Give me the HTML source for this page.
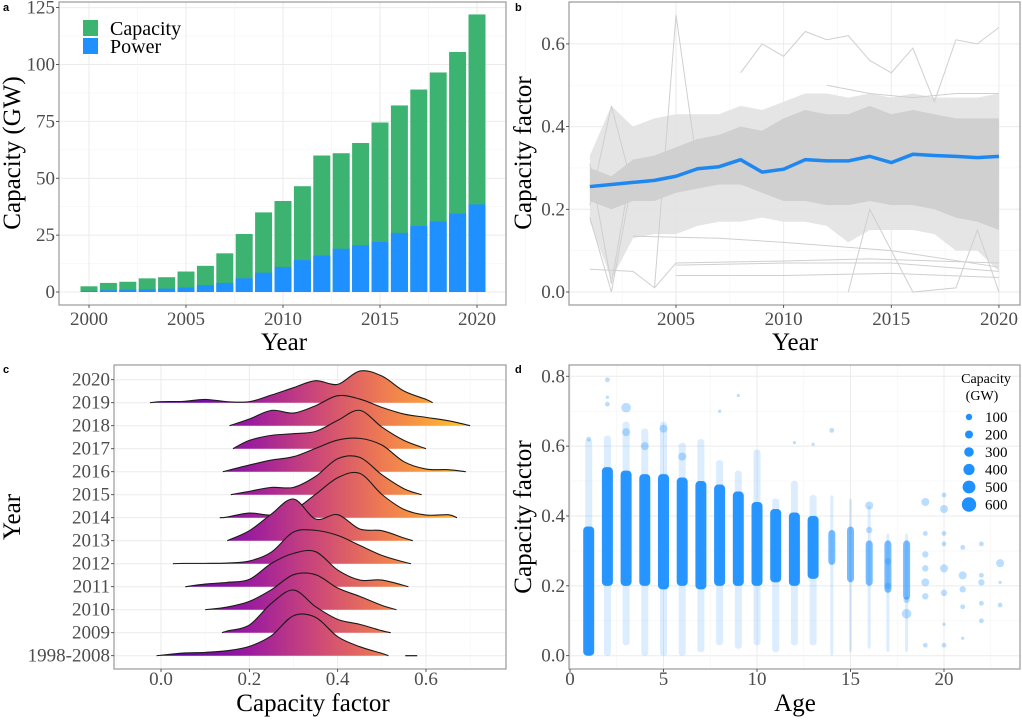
<!DOCTYPE html>
<html><head><meta charset="utf-8"><style>
html,body{margin:0;padding:0;background:#fff;}
svg{display:block;font-family:"Liberation Serif",serif;}
.tick{fill:#4d4d4d;font-size:19px;}
.title{fill:#000;font-size:25px;}
.plabel{font-family:"Liberation Sans",sans-serif;font-weight:bold;font-size:11px;fill:#000;}
</style></head><body>
<svg id="fig" width="1022" height="720" viewBox="0 0 1022 720" xmlns="http://www.w3.org/2000/svg">
<defs>
<linearGradient id="plasma" gradientUnits="userSpaceOnUse" x1="161" y1="0" x2="470" y2="0">
<stop offset="0" stop-color="#4c02a1"/><stop offset="0.28" stop-color="#9a1aa0"/><stop offset="0.5" stop-color="#cc4778"/><stop offset="0.71" stop-color="#ed7953"/><stop offset="0.86" stop-color="#fa9e3b"/><stop offset="1" stop-color="#fdc926"/>
</linearGradient>
</defs>
<g id="pa"></g>
<g id="pb"></g>
<g id="pc"></g>
<g id="pd"></g>
</svg>
<script>
// ---------- Panel a data ----------
const aYears=[2000,2001,2002,2003,2004,2005,2006,2007,2008,2009,2010,2011,2012,2013,2014,2015,2016,2017,2018,2019,2020];
const aCapacity=[2.5,4,4.5,6,6.5,9,11.5,17,25.5,35,40,46.5,60,61,65.5,74.5,82,89,96.5,105.5,122];
const aPower=[0.5,0.8,1,1.2,1.5,2,3,4,6,8.5,11,14,16,19,20.5,22,26,29,31,34.5,38.5];
const aYTicks=[0,25,50,75,100,125];
const aXTicks=[2000,2005,2010,2015,2020];
// ---------- Panel b data ----------
const bYears=[2001,2002,2003,2004,2005,2006,2007,2008,2009,2010,2011,2012,2013,2014,2015,2016,2017,2018,2019,2020];
const bMean=[0.255,0.26,0.265,0.27,0.28,0.298,0.303,0.32,0.29,0.297,0.32,0.317,0.317,0.328,0.313,0.333,0.33,0.328,0.325,0.328];
const bOuterHi=[0.33,0.45,0.40,0.42,0.43,0.43,0.43,0.45,0.44,0.46,0.48,0.48,0.47,0.48,0.47,0.48,0.47,0.47,0.47,0.48];
const bOuterLo=[0.17,0.03,0.13,0.14,0.14,0.16,0.17,0.17,0.18,0.17,0.17,0.16,0.12,0.15,0.15,0.15,0.14,0.10,0.10,0.05];
const bInnerHi=[0.30,0.28,0.32,0.33,0.35,0.37,0.38,0.40,0.39,0.42,0.44,0.43,0.43,0.45,0.43,0.44,0.43,0.42,0.42,0.42];
const bInnerLo=[0.22,0.20,0.22,0.22,0.24,0.25,0.26,0.26,0.24,0.22,0.22,0.21,0.21,0.22,0.21,0.21,0.20,0.18,0.17,0.15];
const bOutlierLines=[
 [[2001,0.31],[2002,0.02],[2003,0.32]],
 [[2001,0.21],[2002,0.45],[2003,0.25]],
 [[2001,0.18],[2002,0.0],[2003,0.28]],
 [[2004,0.01],[2005,0.67],[2006,0.30]],
 [[2008,0.53],[2009,0.60],[2010,0.57],[2011,0.63],[2012,0.61],[2013,0.62],[2014,0.56],[2015,0.53],[2016,0.59],[2017,0.46],[2018,0.61],[2019,0.60],[2020,0.64]],
 [[2005,0.04],[2010,0.04],[2015,0.045],[2020,0.035]],
 [[2005,0.065],[2010,0.07],[2015,0.07],[2020,0.05]],
 [[2001,0.055],[2003,0.05],[2004,0.01],[2005,0.07],[2010,0.075],[2014,0.08],[2020,0.07]],
 [[2003,0.135],[2007,0.13],[2010,0.12],[2015,0.10],[2020,0.06]],
 [[2012,0.50],[2014,0.48],[2016,0.47],[2018,0.48],[2020,0.48]],
 [[2013,0.0],[2014,0.20],[2016,0.0],[2018,0.01],[2019,0.15],[2020,0.0]]
];
const bYTicks=[0,0.2,0.4,0.6];
const bXTicks=[2005,2010,2015,2020];
// ---------- Panel c data ----------
const cLabels=["1998-2008","2009","2010","2011","2012","2013","2014","2015","2016","2017","2018","2019","2020"];
const cGrid=[-0.05,0,0.05,0.1,0.15,0.2,0.25,0.3,0.35,0.4,0.45,0.5,0.55,0.6,0.65,0.7];
const cStart=[-0.01,0.138,0.10,0.055,0.027,0.15,0.133,0.158,0.14,0.163,0.155,-0.025];
const cEnd=[0.515,0.52,0.533,0.56,0.566,0.57,0.67,0.59,0.69,0.60,0.70,0.615];
const cDens=[
 [0,0.2,0.8,1.0,1.5,2.8,6,12,11.5,5.7,2.7,0.7,0,0,0,0],
 [0,0,0,0,0.5,2.3,8.8,12.8,7.8,4,2.5,0.6,0,0,0,0],
 [0,0,0,0.1,0.8,2.5,6,10.5,10.5,6.5,4,1.3,0,0,0,0],
 [0,0,0,0.8,1.3,2.2,7,10,10.5,5,2,2,0.5,0,0,0],
 [0,0,0.1,0.1,0.2,0.8,3.5,9.5,10,8.5,5.5,2.5,0.5,0,0,0],
 [0,0,0,0,0,3,8,12.5,6.5,7.8,3.5,3,0.8,0,0,0],
 [0,0,0,0,0.2,1.4,0.8,2.3,7,12,13.3,7,2.5,0.8,0.9,0],
 [0,0,0,0,0,1.0,2.2,2.2,5.5,10.8,11.2,6,1.8,0,0,0],
 [0,0,0,0,0.3,2,3.5,4.5,7,9.5,10,8,3,0.8,0.6,0],
 [0,0,0,0,0,2.5,4,4.5,5.2,8.5,11.5,6.5,2.5,0,0,0],
 [0,0,0,0,0,2.0,4.6,3.8,6,9,8,5.5,3.5,2.5,1.5,0],
 [0,0.3,0.4,1.0,0.3,0.3,2.3,4.5,6.6,5.5,9.5,8,3.5,1,0,0]
];
const cXTicks=[0,0.2,0.4,0.6];
// ---------- Panel d data ----------
const dAges=[1,2,3,4,5,6,7,8,9,10,11,12,13,14,15,16,17,18];
const dDenseLo=[0.0,0.20,0.20,0.20,0.19,0.20,0.19,0.20,0.20,0.20,0.21,0.20,0.22,0.26,0.21,0.20,0.18,0.16];
const dDenseHi=[0.37,0.54,0.53,0.52,0.52,0.51,0.50,0.49,0.47,0.44,0.42,0.41,0.40,0.36,0.37,0.33,0.33,0.33];
const dSparseLo=[0.0,0.0,0.03,0.0,0.0,0.0,0.01,0.03,0.02,0.03,0.01,0.03,0.03,0.0,0.01,0.02,0.01,0.01];
const dSparseHi=[0.62,0.63,0.67,0.65,0.67,0.61,0.62,0.56,0.53,0.59,0.45,0.50,0.46,0.46,0.45,0.43,0.35,0.35];
const dPoints=[[2,0.79,3],[2,0.74,2],[2,0.72,3],[3,0.71,6],[9,0.745,2],[8,0.70,2],[14,0.645,3],[12,0.61,2],[13,0.605,2],[1,0.62,3],[5,0.65,5],[6,0.57,5],[3,0.64,5],[4,0.60,5],
 [19,0.44,5],[19,0.35,3],[19,0.29,4],[19,0.25,4],[19,0.21,5],[19,0.17,4],[19,0.03,3],[20,0.46,3],[20,0.42,5],[20,0.35,3],[20,0.32,3],[20,0.25,5],[20,0.18,4],[20,0.09,2],[20,0.03,3],
 [21,0.31,3],[21,0.23,5],[21,0.19,4],[21,0.14,3],[21,0.05,2],[22,0.32,3],[22,0.23,3],[22,0.21,4],[22,0.15,3],[22,0.10,3],[23,0.265,5],[23,0.21,2],[23,0.145,3],
 [18,0.12,6],[18,0.16,4],[17,0.27,4],[17,0.20,4],[16,0.43,5],[16,0.36,4]];
const dXTicks=[0,5,10,15,20];
const dYTicks=[0,0.2,0.4,0.6,0.8];
const dLegend=[100,200,300,400,500,600];

const NS="http://www.w3.org/2000/svg";
function mk(tag,attrs,parent,text){const e=document.createElementNS(NS,tag);for(const k in attrs)e.setAttribute(k,attrs[k]);if(text!==undefined)e.textContent=text;parent.appendChild(e);return e;}
function frame(g,x0,y0,x1,y1){const r=mk('rect',{x:x0,y:y0,width:x1-x0,height:y1-y0,fill:'none',stroke:'#9a9a9a','stroke-width':1.2},g);}
function gridV(g,x,y0,y1,minor){const l=mk('line',{x1:x,x2:x,y1:y0,y2:y1,stroke:minor?'#f4f4f4':'#ebebeb','stroke-width':minor?0.6:1},g);}
function gridH(g,y,x0,x1,minor){const l=mk('line',{x1:x0,x2:x1,y1:y,y2:y,stroke:minor?'#f4f4f4':'#ebebeb','stroke-width':minor?0.6:1},g);}
function tickLabel(g,x,y,txt,anchor,name){const t=mk('text',{x:x,y:y,'text-anchor':anchor,class:'tick'},g,txt);return t;}
function tickMark(g,x1,y1,x2,y2){const l=mk('line',{x1,y1,x2,y2,stroke:'#333','stroke-width':0.8},g);}
function title(g,x,y,txt,rot,name){const t=mk('text',{x:x,y:y,'text-anchor':'middle',class:'title',transform:rot?`rotate(-90 ${x} ${y})`:''},g,txt);}
function plabel(g,x,y,txt){const t=mk('text',{x,y,class:'plabel'},g,txt);}
function catmull(pts){let d=`M${pts[0][0]},${pts[0][1]}`;for(let i=0;i<pts.length-1;i++){const p0=pts[Math.max(0,i-1)],p1=pts[i],p2=pts[i+1],p3=pts[Math.min(pts.length-1,i+2)];d+=` C${p1[0]+(p2[0]-p0[0])/6},${p1[1]+(p2[1]-p0[1])/6} ${p2[0]-(p3[0]-p1[0])/6},${p2[1]-(p3[1]-p1[1])/6} ${p2[0]},${p2[1]}`;}return d;}

// ===== Panel a =====
(function(){
 const g=document.getElementById('pa');
 const X0=59,X1=506,Y0=2,Y1=305;
 const xs=v=>89+(v-2000)*19.4, ys=v=>292-v*2.275;
 aYTicks.forEach((v,i)=>{if(i<aYTicks.length-1)gridH(g,ys(v+12.5),X0,X1,true);gridH(g,ys(v),X0,X1);});
 aXTicks.forEach(v=>{gridV(g,xs(v+2.5),Y0,Y1,true);gridV(g,xs(v),Y0,Y1);});
 const bw=17;
 aYears.forEach((yr,i)=>{
  const c=mk('rect',{x:xs(yr)-bw/2,y:ys(aCapacity[i]),width:bw,height:ys(0)-ys(aCapacity[i]),fill:'#3cb371'},g);
  
  const p=mk('rect',{x:xs(yr)-bw/2,y:ys(aPower[i]),width:bw,height:ys(0)-ys(aPower[i]),fill:'#1e90ff'},g);
  
 });
 frame(g,X0,Y0,X1,Y1);
 aYTicks.forEach(v=>{tickLabel(g,55,ys(v)+6,String(v),'end','y-tick-label');tickMark(g,X0-3,ys(v),X0,ys(v));});
 aXTicks.forEach(v=>{tickLabel(g,xs(v),325,String(v),'middle','x-tick-label');tickMark(g,xs(v),Y1,xs(v),Y1+3);});
 title(g,284,350,'Year',false,'x-axis-title');
 title(g,20,153,'Capacity (GW)',true,'y-axis-title');
 plabel(g,3,11,'a');
 const lg=mk('g',{},g);
 let r=mk('rect',{x:83,y:20,width:15,height:16,fill:'#3cb371'},lg);
 r=mk('rect',{x:83,y:38,width:15,height:16,fill:'#1e90ff'},lg);
 let t=mk('text',{x:110,y:35,'font-size':20,fill:'#000'},lg,'Capacity');
 t=mk('text',{x:110,y:53,'font-size':20,fill:'#000'},lg,'Power');
})();

// ===== Panel b =====
(function(){
 const g=document.getElementById('pb');
 const X0=569,X1=1020,Y0=2,Y1=305;
 const xs=v=>676+(v-2005)*21.53, ys=v=>292-v*413.5;
 bYTicks.forEach(v=>{gridH(g,ys(v+0.1),X0,X1,true);gridH(g,ys(v),X0,X1);});
 [2002.5,2007.5,2012.5,2017.5].forEach(v=>gridV(g,xs(v),Y0,Y1,true));
 bXTicks.forEach(v=>gridV(g,xs(v),Y0,Y1));
 function band(hi,lo,fill,op,name){let pts=bYears.map((y,i)=>`${xs(y)},${ys(hi[i])}`);for(let i=bYears.length-1;i>=0;i--)pts.push(`${xs(bYears[i])},${ys(lo[i])}`);const p=mk('polygon',{points:pts.join(' '),fill:fill,opacity:op},g);}
 band(bOuterHi,bOuterLo,'#e2e2e2',0.9,'plant-range-band');
 band(bInnerHi,bInnerLo,'#cdcdcd',0.9,'plant-core-band');
 bOutlierLines.forEach(line=>{const p=mk('polyline',{points:line.map(d=>`${xs(d[0])},${ys(d[1])}`).join(' '),fill:'none',stroke:'#cfcfcf','stroke-width':1},g);});
 const m=mk('polyline',{points:bYears.map((y,i)=>`${xs(y)},${ys(bMean[i])}`).join(' '),fill:'none',stroke:'#1e88f0','stroke-width':3.5,'stroke-linejoin':'round'},g);
 
 frame(g,X0,Y0,X1,Y1);
 bYTicks.forEach(v=>{tickLabel(g,565,ys(v)+6,v.toFixed(1),'end','y-tick-label');tickMark(g,X0-3,ys(v),X0,ys(v));});
 bXTicks.forEach(v=>{tickLabel(g,xs(v),325,String(v),'middle','x-tick-label');tickMark(g,xs(v),Y1,xs(v),Y1+3);});
 title(g,795,350,'Year',false,'x-axis-title');
 title(g,531,153,'Capacity factor',true,'y-axis-title');
 plabel(g,515,11,'b');
})();

// ===== Panel c =====
(function(){
 const g=document.getElementById('pc');
 const X0=114,X1=506,Y0=365,Y1=669;
 const xs=v=>161+v*441.7, yr=i=>655.7-i*23.0;
 const hs=v=>v*10/3;
 cLabels.forEach((l,i)=>gridH(g,yr(i),X0,X1));
 [-0.1,0.1,0.3,0.5,0.7].forEach(v=>gridV(g,xs(v),Y0,Y1,true));
 cXTicks.forEach(v=>gridV(g,xs(v),Y0,Y1));
 for(let i=cDens.length-1;i>=0;i--){
  const pts=[[xs(cStart[i]),yr(i)]];
  cGrid.forEach((gx,k)=>{if(gx>cStart[i]+0.01&&gx<cEnd[i]-0.01)pts.push([xs(gx),yr(i)-hs(cDens[i][k])]);});
  pts.push([xs(cEnd[i]),yr(i)]);
  const d=catmull(pts);
  const p=mk('path',{d:d+' Z',fill:'url(#plasma)',stroke:'none'},g);
  
  const o=mk('path',{d:d,fill:'none',stroke:'#1a1a1a','stroke-width':1.1},g);
  
 }
 const seg=mk('line',{x1:xs(0.553),x2:xs(0.58),y1:yr(0),y2:yr(0),stroke:'#1a1a1a','stroke-width':1.2},g);
 frame(g,X0,Y0,X1,Y1);
 cLabels.forEach((l,i)=>{tickLabel(g,110,yr(i)+6,l,'end','y-tick-label');tickMark(g,X0-3,yr(i),X0,yr(i));});
 cXTicks.forEach(v=>{tickLabel(g,xs(v),685,v.toFixed(1),'middle','x-tick-label');tickMark(g,xs(v),Y1,xs(v),Y1+3);});
 title(g,313,711,'Capacity factor',false,'x-axis-title');
 title(g,20,517,'Year',true,'y-axis-title');
 plabel(g,3,373,'c');
})();

// ===== Panel d =====
(function(){
 const g=document.getElementById('pd');
 const X0=569,X1=1020,Y0=365,Y1=669;
 const xs=v=>570+v*18.7, ys=v=>655.7-v*349.3;
 dYTicks.forEach((v,i)=>{if(i<dYTicks.length-1)gridH(g,ys(v+0.1),X0,X1,true);gridH(g,ys(v),X0,X1);});
 dXTicks.forEach(v=>{gridV(g,xs(v+2.5),Y0,Y1,true);gridV(g,xs(v),Y0,Y1);});
 dAges.forEach((a,i)=>{
  const w=a<=13?11:7;
  const s=mk('rect',{x:xs(a)-w/2+2,y:ys(dSparseHi[i]),width:w-4,height:ys(dSparseLo[i])-ys(dSparseHi[i]),rx:3,fill:'#1e90ff',opacity:0.16},g);
  
  const d=mk('rect',{x:xs(a)-w/2,y:ys(dDenseHi[i]),width:w,height:ys(dDenseLo[i])-ys(dDenseHi[i]),rx:4,fill:'#1e90ff',opacity:a<=13?0.95:0.6},g);
  
 });
 dPoints.forEach(p=>{const c=mk('circle',{cx:xs(p[0]),cy:ys(p[1]),r:p[2]*0.8,fill:'#1e90ff',opacity:0.3},g);});
 frame(g,X0,Y0,X1,Y1);
 dYTicks.forEach(v=>{tickLabel(g,565,ys(v)+6,v.toFixed(1),'end','y-tick-label');tickMark(g,X0-3,ys(v),X0,ys(v));});
 dXTicks.forEach(v=>{tickLabel(g,xs(v),685,String(v),'middle','x-tick-label');tickMark(g,xs(v),Y1,xs(v),Y1+3);});
 title(g,795,711,'Age',false,'x-axis-title');
 title(g,531,517,'Capacity factor',true,'y-axis-title');
 plabel(g,515,373,'d');
 const lg=mk('g',{},g);
 let t=mk('text',{x:986,y:383,'text-anchor':'middle','font-size':14,fill:'#000'},lg,'Capacity');
 t=mk('text',{x:982,y:400,'text-anchor':'middle','font-size':14,fill:'#000'},lg,'(GW)');
 dLegend.forEach((v,i)=>{
  const y=417+i*17.5;
  const c=mk('circle',{cx:969,cy:y,r:3.2+i*0.8,fill:'#1e90ff'},lg);
  const l=mk('text',{x:985,y:y+5,'font-size':15,fill:'#000'},lg,String(v));
 });
})();
</script>
</body></html>
